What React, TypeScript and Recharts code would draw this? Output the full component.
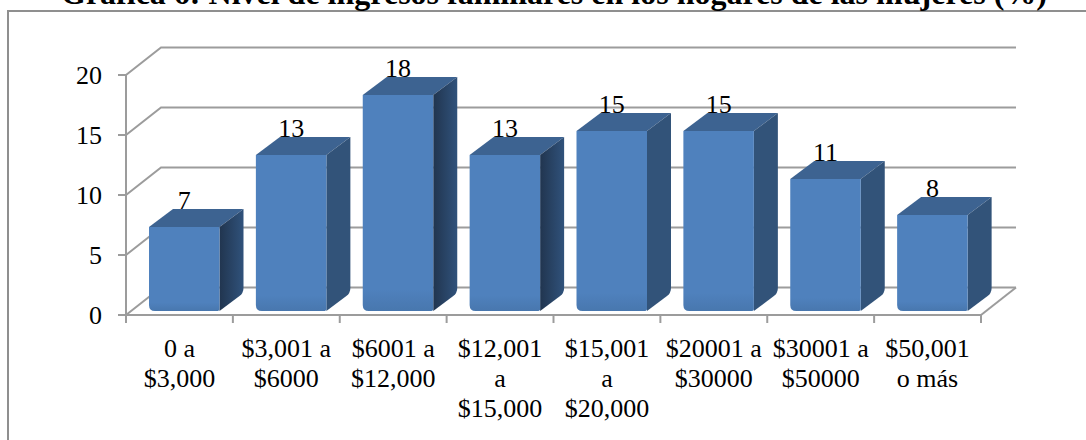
import { BarChart, Bar, XAxis, YAxis, CartesianGrid, LabelList } from "recharts"

const categories = [
  "0 a\n$3,000",
  "$3,001 a\n$6000",
  "$6001 a\n$12,000",
  "$12,001\na\n$15,000",
  "$15,001\na\n$20,000",
  "$20001 a\n$30000",
  "$30001 a\n$50000",
  "$50,001\no más",
]
const percentages = [7, 13, 18, 13, 15, 15, 11, 8]
const yTicks = [0, 5, 10, 15, 20]
const title = "Gráfica 6: Nivel de ingresos familiares en los hogares de las mujeres (%)"

const data = categories.map((name, i) => ({ name, value: percentages[i] }))

const FONT = "'Liberation Serif', 'Times New Roman', serif"
const LINE = "#9c9c9c"

// plot box of the front face
const PLOT_WIDTH = 855
const SLOT = PLOT_WIDTH / categories.length
// depth of the walls behind the axes
const WALL_DX = 35
const WALL_DY = 27.5
// depth of the boxes, and how far they sit from the axis origin
const BOX_DX = 24
const BOX_DY = 18
const BOX_SHIFT_X = 5
const BOX_SHIFT_Y = -4
// these boxes have the darker shaded side in the original
const darkSides = [0, 2, 3]

function WallLine({ x1, x2, y1, index }: any) {
  const back = y1 - WALL_DY
  return (
    <g key={index}>
      <polyline
        points={`${x1},${y1} ${x1 + WALL_DX},${back} ${x2 + WALL_DX},${back}`}
        fill="none"
        stroke={LINE}
        strokeWidth={2}
      />
      {y1 > 300 ? (
        <line x1={x2} y1={y1} x2={x2 + WALL_DX} y2={back} stroke={LINE} strokeWidth={2} />
      ) : null}
    </g>
  )
}

function Box({ x, y, width, height, index }: any) {
  const r = 6
  const right = x + width
  const bottom = y + height
  const sideFill = darkSides.includes(index) ? "url(#sideDark)" : "url(#sideFlat)"
  return (
    <g transform={`translate(${BOX_SHIFT_X},${BOX_SHIFT_Y})`}>
      <path
        d={`M${x},${y} L${x + BOX_DX},${y - BOX_DY} L${right + BOX_DX},${y - BOX_DY} L${right},${y} Z`}
        fill="#3d6391"
      />
      <path
        d={`M${right},${y} L${right + BOX_DX},${y - BOX_DY} L${right + BOX_DX},${bottom - BOX_DY - 5} Q${right + BOX_DX},${bottom - BOX_DY} ${right + BOX_DX - 4},${bottom - BOX_DY + 3} L${right},${bottom} Z`}
        fill={sideFill}
      />
      <path
        d={`M${x},${y} L${right},${y} L${right},${bottom - 2} Q${right},${bottom} ${right - 3},${bottom} L${x + r},${bottom} Q${x},${bottom} ${x},${bottom - r} Z`}
        fill="url(#front)"
      />
    </g>
  )
}

function ValueLabel({ x, y, width, value }: any) {
  return (
    <text
      x={x + width / 2 + BOX_SHIFT_X}
      y={y + BOX_SHIFT_Y - BOX_DY}
      textAnchor="middle"
      fontFamily={FONT}
      fontSize={26}
      fill="#000"
    >
      {value}
    </text>
  )
}

function CategoryTick({ x, y, payload, index }: any) {
  const left = x - SLOT / 2
  const lines = String(payload.value).split("\n")
  return (
    <g>
      <line x1={left} y1={y - 8} x2={left} y2={y} stroke={LINE} strokeWidth={2} />
      {index === categories.length - 1 ? (
        <line x1={x + SLOT / 2} y1={y - 8} x2={x + SLOT / 2} y2={y} stroke={LINE} strokeWidth={2} />
      ) : null}
      <text textAnchor="middle" fontFamily={FONT} fontSize={26} fill="#000">
        {lines.map((line, i) => (
          <tspan key={i} x={x} y={y + 34 + i * 30}>
            {line}
          </tspan>
        ))}
      </text>
    </g>
  )
}

export default function App() {
  return (
    <div style={{ position: "absolute", left: 0, top: 0, width: 1086, height: 440, overflow: "hidden", background: "#fff" }}>
      <div style={{ position: "absolute", left: 7, top: 10, right: -4, bottom: -4, border: "2px solid #8f8f8f" }} />
      <div
        style={{
          position: "absolute",
          left: 0,
          width: 1108,
          top: -22,
          textAlign: "center",
          fontFamily: FONT,
          fontWeight: "bold",
          fontSize: 32,
          lineHeight: "30px",
          whiteSpace: "nowrap",
          color: "#000",
        }}
      >
        {title}
      </div>
      <div style={{ position: "absolute", left: 0, top: 0 }}>
        <BarChart
          width={1086}
          height={440}
          data={data}
          margin={{ top: 75, right: 105, bottom: 0, left: 26 }}
          barSize={70.5}
        >
          <defs>
            <linearGradient id="front" x1="0" y1="0" x2="0" y2="1">
              <stop offset="0" stopColor="#4f81bd" />
              <stop offset="0.9" stopColor="#4f81bd" />
              <stop offset="1" stopColor="#4877ae" />
            </linearGradient>
            <linearGradient id="sideDark" x1="0" y1="0" x2="1" y2="0">
              <stop offset="0" stopColor="#21354f" />
              <stop offset="1" stopColor="#30527b" />
            </linearGradient>
            <linearGradient id="sideFlat" x1="0" y1="0" x2="1" y2="0">
              <stop offset="0" stopColor="#325379" />
              <stop offset="1" stopColor="#325379" />
            </linearGradient>
          </defs>
          <CartesianGrid vertical={false} horizontal={(props: any) => <WallLine {...props} />} />
          <XAxis
            dataKey="name"
            height={125}
            interval={0}
            axisLine={{ stroke: LINE, strokeWidth: 2 }}
            tickLine={false}
            tick={(props: any) => <CategoryTick {...props} />}
          />
          <YAxis
            width={100}
            domain={[0, 20]}
            ticks={yTicks}
            interval={0}
            axisLine={{ stroke: LINE, strokeWidth: 2 }}
            tickLine={{ stroke: LINE, strokeWidth: 2 }}
            tickSize={8}
            tickMargin={16}
            tick={{ fontFamily: FONT, fontSize: 26, fill: "#000" }}
          />
          <Bar dataKey="value" isAnimationActive={false} shape={(props: any) => <Box {...props} />}>
            <LabelList dataKey="value" content={(props: any) => <ValueLabel {...props} />} />
          </Bar>
        </BarChart>
      </div>
    </div>
  )
}
